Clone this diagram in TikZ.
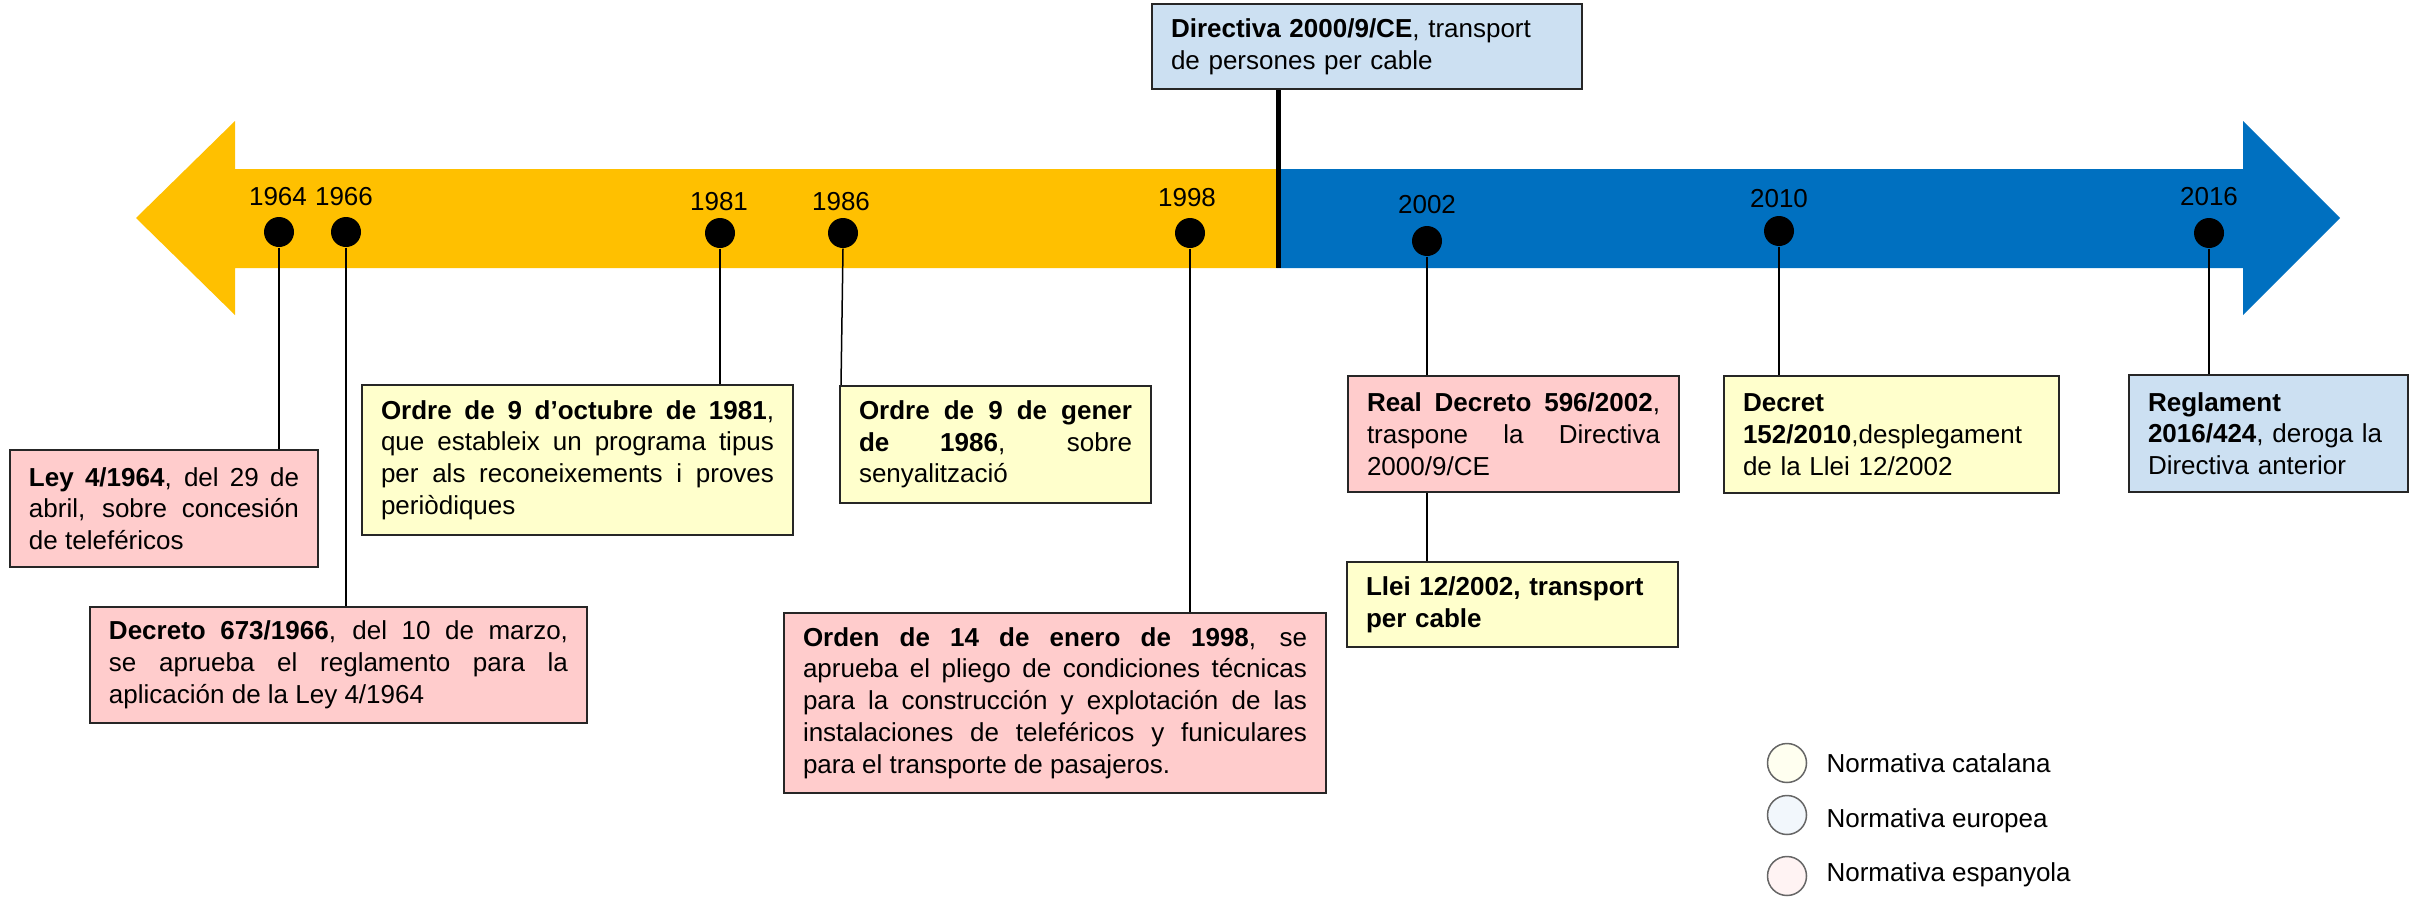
\documentclass[tikz,border=0pt]{standalone}
\usepackage{fontspec}
\setmainfont{Liberation Sans}
\definecolor{arrowyel}{HTML}{FFC000}
\definecolor{arrowblu}{HTML}{0070C0}
\definecolor{pinkbox}{HTML}{FFCCCC}
\definecolor{yelbox}{HTML}{FFFFCC}
\definecolor{blubox}{HTML}{CCE0F2}
\definecolor{keycat}{HTML}{FFFFF0}
\definecolor{keyeu}{HTML}{F2F7FC}
\definecolor{keyes}{HTML}{FFF3F3}
\begin{document}
\begin{tikzpicture}[x=0.4pt,y=-0.4pt,
  txt/.style={font=\fontsize{10.4pt}{12.7pt}\selectfont},
  box/.style={txt,draw=black!85,line width=0.9pt,inner sep=0pt,align=justify,
    execute at begin node={\tolerance=10000\hyphenpenalty=10000\exhyphenpenalty=10000}},
  lbox/.style={box,align=left},
  es/.style={fill=pinkbox},
  ca/.style={fill=yelbox},
  eu/.style={fill=blubox},
  dot/.style={circle,fill=black,inner sep=0pt,minimum size=12pt},
  year/.style={txt,inner sep=0pt},
  link/.style={line width=0.6pt},
  key/.style={circle,draw=black!60,line width=0.6pt,minimum size=15.6pt,inner sep=0pt},
  keytext/.style={txt,anchor=base west,inner sep=0pt}]
\useasboundingbox (0,0) rectangle (2418,900);
% arrows
\fill[arrowyel] (1277,169) -- (235,169) -- (235,121) -- (136,218) -- (235,315) -- (235,268) -- (1277,268) -- cycle;
\fill[arrowblu] (1277,169) -- (2243,169) -- (2243,121) -- (2340,218) -- (2243,315) -- (2243,268) -- (1277,268) -- cycle;
% years and dots
\node[year] (y1964) at (278,197) {1964};
\node[year] (y1966) at (344,197) {1966};
\node[year] (y1981) at (719,202) {1981};
\node[year] (y1986) at (841,202) {1986};
\node[year] (y1998) at (1187,198) {1998};
\node[year] (y2002) at (1427,205) {2002};
\node[year] (y2010) at (1779,199) {2010};
\node[year] (y2016) at (2209,197) {2016};
\node[dot] (d1964) at (279,232) {};
\node[dot] (d1966) at (346,232) {};
\node[dot] (d1981) at (720,233) {};
\node[dot] (d1986) at (843,233) {};
\node[dot] (d1998) at (1190,233) {};
\node[dot] (d2002) at (1427,241) {};
\node[dot] (d2010) at (1779,231) {};
\node[dot] (d2016) at (2209,233) {};
% boxes
\node[box,es,minimum width=123.2pt,minimum height=46.8pt,text width=108pt] (ley) at (164,508.5)
  {\textbf{Ley 4/1964}, del 29 de\linebreak abril, sobre concesión\linebreak de teleféricos};
\node[box,ca,minimum width=172.4pt,minimum height=60pt,text width=157.2pt] (o1981) at (577.5,460)
  {\textbf{Ordre de 9 d’octubre de 1981},\linebreak que estableix un programa tipus\linebreak per als reconeixements i proves\linebreak periòdiques};
\node[box,es,minimum width=198.8pt,minimum height=46.4pt,text width=183.6pt] (d673) at (338.5,665)
  {\textbf{Decreto 673/1966}, del 10 de marzo,\linebreak se aprueba el reglamento para la\linebreak aplicación de la Ley 4/1964};
\node[box,ca,minimum width=124.4pt,minimum height=46.8pt,text width=109.2pt] (o1986) at (995.5,444.5)
  {\textbf{Ordre de 9 de gener}\linebreak \textbf{de 1986}, sobre\linebreak senyalització};
\node[box,es,minimum width=216.8pt,minimum height=72pt,text width=201.6pt] (o1998) at (1055,703)
  {\textbf{Orden de 14 de enero de 1998}, se\linebreak aprueba el pliego de condiciones técnicas\linebreak para la construcción y explotación de las\linebreak instalaciones de teleféricos y funiculares\linebreak para el transporte de pasajeros.};
\node[lbox,eu,minimum width=172pt,minimum height=34pt,text width=156.8pt] (dir) at (1367,46.5)
  {\textbf{Directiva 2000/9/CE}, transport\\de persones per cable};
\node[box,es,minimum width=132.4pt,minimum height=46.4pt,text width=117.2pt] (rd) at (1513.5,434)
  {\textbf{Real Decreto 596/2002},\linebreak traspone la Directiva\linebreak 2000/9/CE};
\node[lbox,ca,minimum width=132.4pt,minimum height=34pt,text width=117.2pt] (llei) at (1512.5,604.5)
  {\textbf{Llei 12/2002, transport}\\\textbf{per cable}};
\node[lbox,ca,minimum width=134pt,minimum height=46.8pt,text width=118.8pt] (dec) at (1891.5,434.5)
  {\textbf{Decret}\\\textbf{152/2010},desplegament\\de la Llei 12/2002};
\node[lbox,eu,minimum width=111.6pt,minimum height=46.8pt,text width=96.4pt] (reg) at (2268.5,433.5)
  {\textbf{Reglament}\\\textbf{2016/424}, deroga la\\Directiva anterior};
% divider
\coordinate (divbot) at (1278,268);
\draw[line width=2pt] (dir.south -| divbot) -- (divbot);
% connectors
\draw[link] (d1964.south) -- (d1964.south |- ley.north);
\draw[link] (d1966.south) -- (d1966.south |- d673.north);
\draw[link] (d1981.south) -- (d1981.south |- o1981.north);
\draw[link] (d1986.south) -- ([xshift=-0.8pt]d1986.south |- o1986.north);
\draw[link] (d1998.south) -- (d1998.south |- o1998.north);
\draw[link] (d2002.south) -- (d2002.south |- rd.north);
\draw[link] (rd.south -| d2002) -- (llei.north -| d2002);
\draw[link] (d2010.south) -- (d2010.south |- dec.north);
\draw[link] (d2016.south) -- (d2016.south |- reg.north);
% legend
\node[key,fill=keycat] (kcat) at (1787,763) {};
\node[key,fill=keyeu] (keu) at (1787,815) {};
\node[key,fill=keyes] (kes) at (1787,876) {};
\node[keytext] (lcat) at (1826,772) {Normativa catalana};
\node[keytext] (leu) at (1826,827) {Normativa europea};
\node[keytext] (les) at (1826,881) {Normativa espanyola};
\end{tikzpicture}
\end{document}
